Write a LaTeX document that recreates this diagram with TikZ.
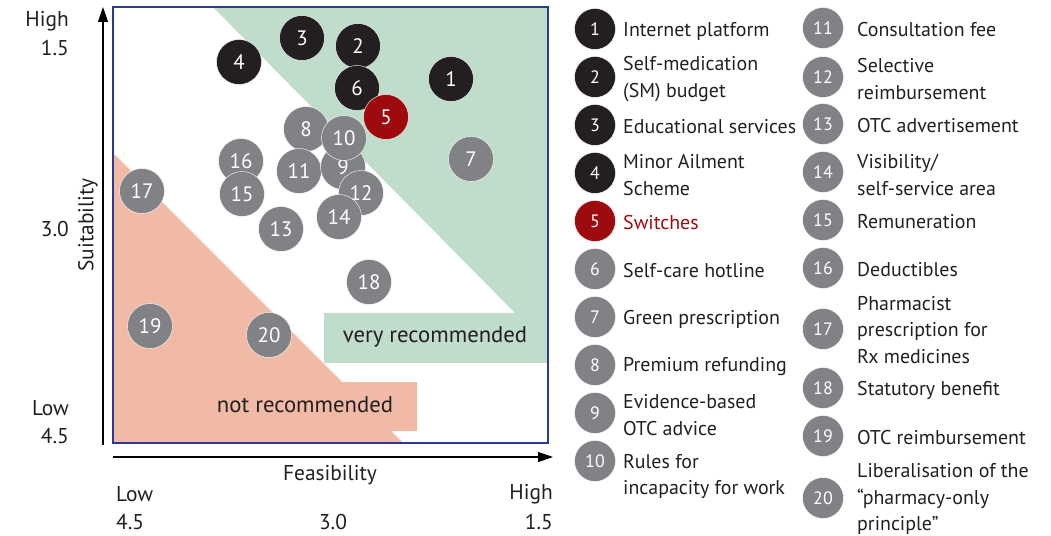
\documentclass[tikz,border=0pt]{standalone}
\usepackage{fontspec}
\setmainfont{PT Sans}
\usetikzlibrary{arrows.meta}
\definecolor{txt}{RGB}{35,31,32}
\definecolor{cblack}{RGB}{35,31,32}
\definecolor{cgrey}{RGB}{128,130,133}
\definecolor{cred}{RGB}{158,11,15}
\definecolor{greenbg}{RGB}{192,220,203}
\definecolor{redbg}{RGB}{241,186,166}
\definecolor{framec}{RGB}{43,57,144}
\tikzset{
  pc/.style={circle, fill=#1, draw=white, line width=0.4bp, minimum size=45bp, inner sep=0pt, text=white, font=\fontsize{21}{21}\selectfont},
  lc/.style={circle, fill=#1, draw=white, line width=0.4bp, minimum size=41bp, inner sep=0pt, text=white, font=\fontsize{18}{18}\selectfont},
  lt/.style={anchor=west, align=left, inner sep=0pt, text=txt, font=\fontsize{20}{26.8}\selectfont},
  lab/.style={inner sep=0pt, text=txt, font=\fontsize{21.5}{27}\selectfont},
  reglab/.style={inner sep=0pt, text=txt, font=\fontsize{22.8}{27}\selectfont},
  axisline/.style={line width=1.2bp, draw=black, -{Triangle[length=15bp,width=10bp]}},
  framebox/.style={draw=framec, line width=2bp}
}
\begin{document}
\begin{tikzpicture}[x=1bp,y=-1bp]
\useasboundingbox (0,0) rectangle (1051,536);
% regions
\fill[greenbg] (213,7) -- (548,7) -- (548,363) -- (324,363) -- (324,313) -- (515,313) -- cycle;
\fill[redbg] (113,153) -- (342,382) -- (417,382) -- (417,431) -- (391,431) -- (403,443) -- (113,443) -- cycle;
\node[reglab] (vr) at (435,337) {very recommended};
\node[reglab] (nr) at (305,405) {not recommended};
\draw[framebox] (113,7) rectangle (548,443);
% axes
\coordinate (yb) at (103,445);
\coordinate (yt) at (103,7);
\coordinate (xl) at (113,457);
\coordinate (xr) at (553,457);
\draw[axisline] (yb) -- (yt);
\draw[axisline] (xl) -- (xr);
\node[lab, rotate=90] (suit) at (88,225) {Suitability};
\node[lab, anchor=east] (yh) at (69,21) {High};
\node[lab, anchor=east] (yh2) at (69,48) {1.5};
\node[lab, anchor=east] (ym) at (69,229) {3.0};
\node[lab, anchor=east] (yl) at (69,408) {Low};
\node[lab, anchor=east] (yl2) at (69,436) {4.5};
\node[lab] (feas) at (330,475) {Feasibility};
\node[lab, anchor=west] (xlo) at (116,494) {Low};
\node[lab, anchor=west] (xlo2) at (116,522) {4.5};
\node[lab] (xm) at (333,522) {3.0};
\node[lab, anchor=east] (xhi) at (553,494) {High};
\node[lab, anchor=east] (xhi2) at (553,522) {1.5};
% plot circles
\node[pc=cblack] (p1) at (451,79) {1};
\node[pc=cblack] (p2) at (358,46) {2};
\node[pc=cblack] (p3) at (302,38) {3};
\node[pc=cblack] (p4) at (239,62) {4};
\node[pc=cblack] (p6) at (357,88) {6};
\node[pc=cred] (p5) at (386,117) {5};
\node[pc=cgrey] (p7) at (471,159) {7};
\node[pc=cgrey] (p16) at (241,161) {16};
\node[pc=cgrey] (p15) at (242,194) {15};
\node[pc=cgrey] (p13) at (281,229) {13};
\node[pc=cgrey] (p17) at (142,191) {17};
\node[pc=cgrey] (p18) at (369,282) {18};
\node[pc=cgrey] (p19) at (150,326) {19};
\node[pc=cgrey] (p20) at (269,335) {20};
\node[pc=cgrey] (p8) at (306,129) {8};
\node[pc=cgrey] (p11) at (299,171) {11};
\node[pc=cgrey] (p9) at (343,167) {9};
\node[pc=cgrey] (p12) at (361,193) {12};
\node[pc=cgrey] (p14) at (339,217) {14};
\node[pc=cgrey] (p10) at (344,138) {10};
% legend column 1
\node[lc=cblack] (l1) at (595,29) {1};
\node[lt] (t1) at (623,31) {Internet platform};
\node[lc=cblack] (l2) at (595,77) {2};
\node[lt] (t2) at (623,79) {Self-medication\\(SM) budget};
\node[lc=cblack] (l3) at (595,125) {3};
\node[lt] (t3) at (623,127) {Educational services};
\node[lc=cblack] (l4) at (595,173) {4};
\node[lt] (t4) at (623,175) {Minor Ailment\\Scheme};
\node[lc=cred] (l5) at (595,221) {5};
\node[lt, text=cred] (t5) at (623,223) {Switches};
\node[lc=cgrey] (l6) at (595,269) {6};
\node[lt] (t6) at (623,271) {Self-care hotline};
\node[lc=cgrey] (l7) at (595,317) {7};
\node[lt] (t7) at (623,319) {Green prescription};
\node[lc=cgrey] (l8) at (595,365) {8};
\node[lt] (t8) at (623,367) {Premium refunding};
\node[lc=cgrey] (l9) at (595,413) {9};
\node[lt] (t9) at (623,415) {Evidence-based\\OTC advice};
\node[lc=cgrey] (l10) at (595,461) {10};
\node[lt] (t10) at (623,476.5) {Rules for\\incapacity for work};
% legend column 2
\node[lc=cgrey] (l11) at (823,28) {11};
\node[lt] (t11) at (857,30) {Consultation fee};
\node[lc=cgrey] (l12) at (823,77) {12};
\node[lt] (t12) at (857,79) {Selective\\reimbursement};
\node[lc=cgrey] (l13) at (823,124) {13};
\node[lt] (t13) at (857,126) {OTC advertisement};
\node[lc=cgrey] (l14) at (823,172) {14};
\node[lt] (t14) at (857,175) {Visibility/\\self-service area};
\node[lc=cgrey] (l15) at (823,220) {15};
\node[lt] (t15) at (857,222) {Remuneration};
\node[lc=cgrey] (l16) at (823,268) {16};
\node[lt] (t16) at (857,270) {Deductibles};
\node[lc=cgrey] (l17) at (823,329) {17};
\node[lt] (t17) at (857,330) {Pharmacist\\prescription for\\Rx medicines};
\node[lc=cgrey] (l18) at (823,388) {18};
\node[lt] (t18) at (857,390) {Statutory benefit};
\node[lc=cgrey] (l19) at (823,436) {19};
\node[lt] (t19) at (857,438) {OTC reimbursement};
\node[lc=cgrey] (l20) at (823,498) {20};
\node[lt] (t20) at (857,499) {Liberalisation of the\\\char"201C pharmacy-only\\principle\char"201D};
\end{tikzpicture}
\end{document}
